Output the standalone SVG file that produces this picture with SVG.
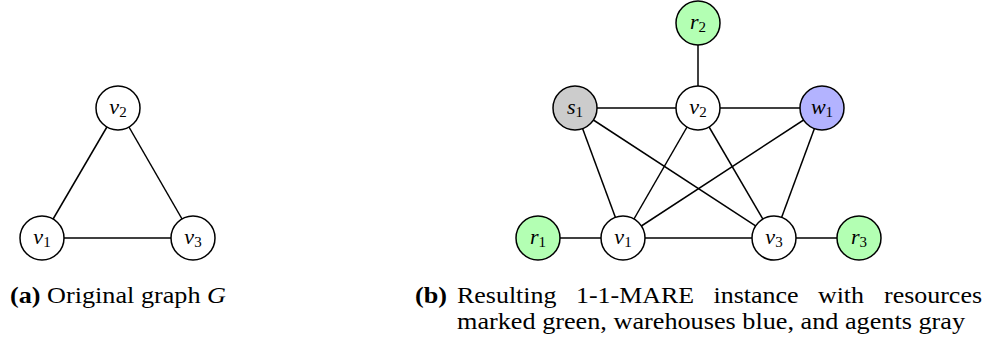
<svg xmlns="http://www.w3.org/2000/svg" width="995" height="341" viewBox="0 0 995 341">
<style>
.n{stroke:#000;stroke-width:1.5}
.w{fill:#fff}
.g{fill:#b3ffb3}
.b{fill:#b3b3ff}
.s{fill:#cccccc}
.e{stroke:#000;stroke-width:1.5;fill:none}
.l{font-family:"Liberation Serif",serif;font-style:italic;font-size:22px;text-anchor:middle}
.sub{font-style:normal;font-size:15px}
.c{font-family:"Liberation Serif",serif;font-size:24px}
</style>
<rect width="995" height="341" fill="#fff"/>
<g id="connectors">
<line class="e" x1="42" y1="238" x2="118" y2="108"/>
<line class="e" x1="118" y1="108" x2="193" y2="238"/>
<line class="e" x1="42" y1="238" x2="193" y2="238"/>
<line class="e" x1="698" y1="23" x2="698" y2="108"/>
<line class="e" x1="575" y1="108" x2="822" y2="108"/>
<line class="e" x1="575" y1="108" x2="623" y2="238"/>
<line class="e" x1="575" y1="108" x2="774" y2="238"/>
<line class="e" x1="698" y1="108" x2="623" y2="238"/>
<line class="e" x1="698" y1="108" x2="774" y2="238"/>
<line class="e" x1="822" y1="108" x2="623" y2="238"/>
<line class="e" x1="822" y1="108" x2="774" y2="238"/>
<line class="e" x1="538" y1="238" x2="859" y2="238"/>
</g>
<g id="a-v2"><circle class="n w" cx="118" cy="108" r="22"/><text class="l" x="118" y="114">v<tspan class="sub" dy="3">2</tspan></text></g>
<g id="a-v1"><circle class="n w" cx="42" cy="238" r="22"/><text class="l" x="42" y="244">v<tspan class="sub" dy="3">1</tspan></text></g>
<g id="a-v3"><circle class="n w" cx="193" cy="238" r="22"/><text class="l" x="193" y="244">v<tspan class="sub" dy="3">3</tspan></text></g>
<g id="b-r2"><circle class="n g" cx="698" cy="23" r="22"/><text class="l" x="698" y="29">r<tspan class="sub" dy="3">2</tspan></text></g>
<g id="b-s1"><circle class="n s" cx="575" cy="108" r="22"/><text class="l" x="575" y="114">s<tspan class="sub" dy="3">1</tspan></text></g>
<g id="b-v2"><circle class="n w" cx="698" cy="108" r="22"/><text class="l" x="698" y="114">v<tspan class="sub" dy="3">2</tspan></text></g>
<g id="b-w1"><circle class="n b" cx="822" cy="108" r="22"/><text class="l" x="822" y="114">w<tspan class="sub" dy="3">1</tspan></text></g>
<g id="b-r1"><circle class="n g" cx="538" cy="238" r="22"/><text class="l" x="538" y="244">r<tspan class="sub" dy="3">1</tspan></text></g>
<g id="b-v1"><circle class="n w" cx="623" cy="238" r="22"/><text class="l" x="623" y="244">v<tspan class="sub" dy="3">1</tspan></text></g>
<g id="b-v3"><circle class="n w" cx="774" cy="238" r="22"/><text class="l" x="774" y="244">v<tspan class="sub" dy="3">3</tspan></text></g>
<g id="b-r3"><circle class="n g" cx="859" cy="238" r="22"/><text class="l" x="859" y="244">r<tspan class="sub" dy="3">3</tspan></text></g>
<g id="captions">
<text class="c" x="10" y="303" textLength="216" lengthAdjust="spacingAndGlyphs"><tspan font-weight="bold">(a)</tspan> Original graph <tspan font-style="italic">G</tspan></text>
<text class="c" x="415" y="303" textLength="32" lengthAdjust="spacingAndGlyphs" font-weight="bold">(b)</text>
<text class="c" x="457" y="303" textLength="99.5" lengthAdjust="spacingAndGlyphs">Resulting</text>
<text class="c" x="576" y="303" textLength="118" lengthAdjust="spacingAndGlyphs">1-1-MARE</text>
<text class="c" x="713.5" y="303" textLength="85" lengthAdjust="spacingAndGlyphs">instance</text>
<text class="c" x="818" y="303" textLength="46" lengthAdjust="spacingAndGlyphs">with</text>
<text class="c" x="884" y="303" textLength="98" lengthAdjust="spacingAndGlyphs">resources</text>
<text class="c" x="457" y="329" textLength="508" lengthAdjust="spacingAndGlyphs">marked green, warehouses blue, and agents gray</text>
</g>
</svg>
